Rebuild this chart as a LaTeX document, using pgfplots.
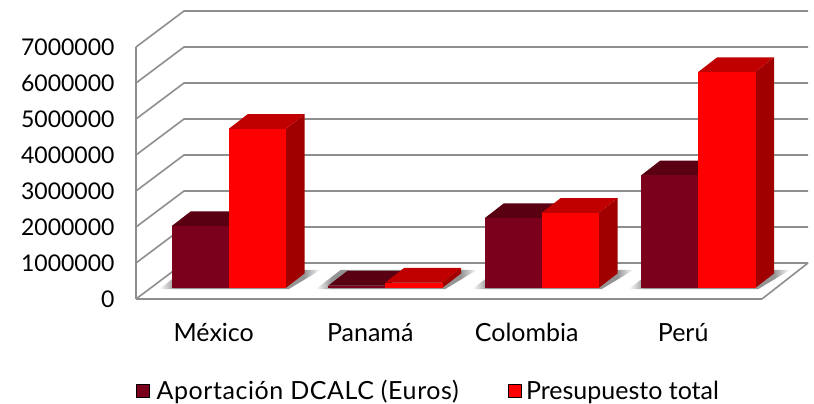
\documentclass[border=0pt]{standalone}
\usepackage{fontspec}
\setmainfont{Lato}
\usepackage{pgfplots}
\pgfplotsset{compat=1.18}
\definecolor{wine}{HTML}{7A001B}
\definecolor{winetop}{HTML}{590012}
\definecolor{redtop}{HTML}{C00000}
\definecolor{redside}{HTML}{A00000}
\definecolor{gridgray}{HTML}{8E8E8E}
\pgfdeclarehorizontalshading{floorshadow}{100bp}{color(0bp)=(white); color(25bp)=(white); color(30bp)=(black!42); color(70bp)=(black!42); color(75bp)=(white); color(100bp)=(white)}
% 1 category = 156.5 px, 1000000 = 36 px
\def\base{305556}  % bars stand 11 px in front of the wall line
\def\depth{408333} % 14.7 px
\def\dx{0.1214}    % 19 px
\def\bw{0.3642}    % 57 px bar width
\def\sh{0.0958}    % 15 px
% one 3d bar: left, right, value, front, top, side
\newcommand{\onebar}[6]{%
  \pgfmathsetmacro\xa{#1}\pgfmathsetmacro\xb{#2}%
  \pgfmathsetmacro\xc{#1+\dx}\pgfmathsetmacro\xd{#2+\dx}\pgfmathsetmacro\xe{#2+0.004}%
  \edef\yb{\base}\edef\yc{\the\numexpr\base+\depth\relax}%
  \edef\yt{\the\numexpr\base+#3\relax}\edef\yu{\the\numexpr\base+\depth+#3\relax}%
  \addplot[fill=#6,draw=none,forget plot] coordinates {(\xb,\yb)(\xd,\yc)(\xd,\yu)(\xb,\yt)};
  \addplot[fill=#5,draw=none,forget plot] coordinates {(\xa,\yt)(\xb,\yt)(\xd,\yu)(\xc,\yu)};
  \addplot[fill=#4,draw=none,forget plot] coordinates {(\xa,\yb)(\xe,\yb)(\xe,\yt)(\xa,\yt)};
}
% one category: index, first series, second series
\newcommand{\group}[3]{%
  \pgfmathsetmacro\gc{#1+\sh}\pgfmathsetmacro\gl{\gc-\bw}\pgfmathsetmacro\gr{\gc+\bw}%
  \pgfmathsetmacro\sa{\gl-0.08}\pgfmathsetmacro\sb{\gr+0.02}%
  \pgfmathsetmacro\sc{\gl+0.08}\pgfmathsetmacro\sd{\gr+\dx+0.1}%
  \addplot[draw=none,forget plot,shading=floorshadow]
    coordinates {(\sa,277000)(\sb,277000)(\sd,806000)(\sc,806000)};
  \onebar{\gl}{\gc}{#2}{wine}{winetop}{winetop}
  \onebar{\gc}{\gr}{#3}{red}{redtop}{redside}
}
\begin{document}
\begin{tikzpicture}[x=1pt,y=1pt]
\path[use as bounding box] (0,0) rectangle (814,404);
\begin{axis}[
  at={(136pt,105pt)}, anchor=south west,
  scale only axis, width=672pt, height=288pt,
  xmin=-0.4965, xmax=3.7974, ymin=0, ymax=8000000,
  clip=false, no markers,
  axis line style={draw=none}, tick style={draw=none},
  xtick={0,1,2,3}, xticklabels={México,Panamá,Colombia,Perú},
  ytick={0,1000000,2000000,3000000,4000000,5000000,6000000,7000000},
  scaled y ticks=false,
  /pgf/number format/.cd, fixed, 1000 sep={}, assume math mode=true, /pgfplots/.cd,
  tick label style={black},
  yticklabel style={font=\fontsize{23}{26}\selectfont, xshift=-18pt},
  xticklabel style={font=\fontsize{25}{28}\selectfont, yshift=-21pt},
  legend columns=2,
  legend style={at={(-0.0045,-0.319)}, anchor=west, draw=none, fill=none,
    font=\fontsize{25}{28}\selectfont, /tikz/every even column/.style={column sep=47pt}},
  legend image code/.code={\fill[#1] (0pt,-6.5pt) rectangle (13pt,6.5pt);},
]
% bottom and left wall
\addplot[gridgray,line width=1.6pt,forget plot] coordinates {(-0.4965,7000000)(-0.4965,0)};
\addplot[gridgray,line width=1.6pt,forget plot] coordinates {(-0.4965,0)(3.5033,0)};
\addplot[gridgray,line width=1.6pt,forget plot] coordinates {(3.5033,0)(3.7974,1000000)};
% walls and floor lines
\addplot[gridgray,line width=1.6pt,forget plot] coordinates {(-0.4965,0)(-0.1898,1000000)(3.7974,1000000)};
\addplot[gridgray,line width=1.6pt,forget plot] coordinates {(-0.4965,1000000)(-0.1898,2000000)(3.7974,2000000)};
\addplot[gridgray,line width=1.6pt,forget plot] coordinates {(-0.4965,2000000)(-0.1898,3000000)(3.7974,3000000)};
\addplot[gridgray,line width=1.6pt,forget plot] coordinates {(-0.4965,3000000)(-0.1898,4000000)(3.7974,4000000)};
\addplot[gridgray,line width=1.6pt,forget plot] coordinates {(-0.4965,4000000)(-0.1898,5000000)(3.7974,5000000)};
\addplot[gridgray,line width=1.6pt,forget plot] coordinates {(-0.4965,5000000)(-0.1898,6000000)(3.7974,6000000)};
\addplot[gridgray,line width=1.6pt,forget plot] coordinates {(-0.4965,6000000)(-0.1898,7000000)(3.7974,7000000)};
\addplot[gridgray,line width=1.6pt,forget plot] coordinates {(-0.4965,7000000)(-0.1898,8000000)(3.7974,8000000)};
% bars
\group{0}{1720000}{4420000}
\group{1}{65000}{150000}
\group{2}{1940000}{2090000}
\group{3}{3130000}{6000000}
\addlegendimage{fill=wine}
\addlegendentry{\hspace{5pt}\addfontfeatures{LetterSpace=2.3}Aportación DCALC (Euros)}
\addlegendimage{fill=red}
\addlegendentry{\hspace{3pt}Presupuesto total}
\end{axis}
\end{tikzpicture}
\end{document}
